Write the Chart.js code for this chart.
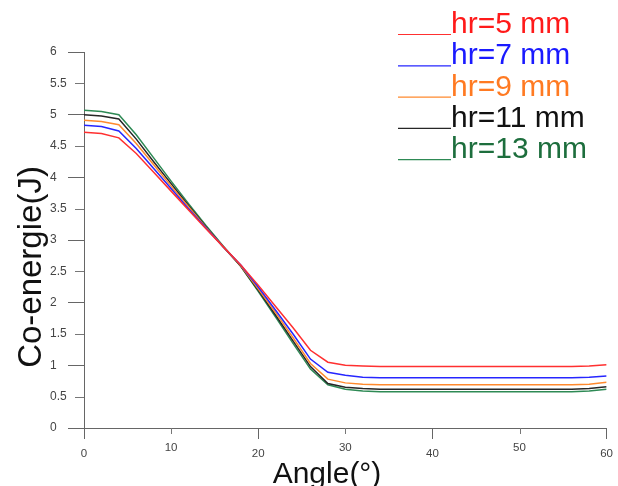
<!DOCTYPE html>
<html>
<head>
<meta charset="utf-8">
<script src="https://cdn.jsdelivr.net/npm/chart.js@4.4.1/dist/chart.umd.min.js"></script>
<style>
    html, body { margin: 0; padding: 0; background: #fff; }
</style>
</head>
<body>
<canvas id="coChart" width="618" height="486"></canvas>
<script>
// Açılar (derece)
const angles = [0, 2, 4, 6, 8, 10, 12, 14, 16, 18, 20, 22, 24, 26, 28, 30,
                32, 34, 36, 38, 40, 42, 44, 46, 48, 50, 52, 54, 56, 58, 60];

// Co-enerji değerleri (J)
const hr5  = [4.72, 4.70, 4.63, 4.38, 4.08, 3.78, 3.48, 3.18, 2.89, 2.60, 2.28, 1.94, 1.60, 1.24,
              1.05, 1.00, 0.99, 0.98, 0.98, 0.98, 0.98, 0.98, 0.98, 0.98, 0.98, 0.98, 0.98, 0.98, 0.98, 0.99, 1.01];
const hr7  = [4.83, 4.81, 4.74, 4.46, 4.14, 3.82, 3.50, 3.19, 2.89, 2.60, 2.25, 1.88, 1.50, 1.10,
              0.89, 0.84, 0.81, 0.80, 0.80, 0.80, 0.80, 0.80, 0.80, 0.80, 0.80, 0.80, 0.80, 0.80, 0.80, 0.81, 0.83];
const hr9  = [4.91, 4.89, 4.84, 4.54, 4.20, 3.86, 3.53, 3.20, 2.89, 2.59, 2.22, 1.84, 1.44, 1.03,
              0.78, 0.72, 0.70, 0.69, 0.69, 0.69, 0.69, 0.69, 0.69, 0.69, 0.69, 0.69, 0.69, 0.69, 0.69, 0.70, 0.73];
const hr11 = [5.00, 4.98, 4.93, 4.61, 4.25, 3.90, 3.55, 3.21, 2.89, 2.58, 2.20, 1.80, 1.39, 0.98,
              0.71, 0.65, 0.63, 0.62, 0.62, 0.62, 0.62, 0.62, 0.62, 0.62, 0.62, 0.62, 0.62, 0.62, 0.62, 0.63, 0.66];
const hr13 = [5.07, 5.05, 5.00, 4.68, 4.31, 3.94, 3.58, 3.23, 2.90, 2.58, 2.18, 1.77, 1.35, 0.94,
              0.69, 0.62, 0.59, 0.58, 0.58, 0.58, 0.58, 0.58, 0.58, 0.58, 0.58, 0.58, 0.58, 0.58, 0.58, 0.59, 0.62];

const seriesLabels = ['hr=5 mm', 'hr=7 mm', 'hr=9 mm', 'hr=11 mm', 'hr=13 mm'];

// Eksen etiketleri
const xTicks = [0, 10, 20, 30, 40, 50, 60];
const yTicks = [0, 0.5, 1, 1.5, 2, 2.5, 3, 3.5, 4, 4.5, 5, 5.5, 6];

const lineColors = ['#ff3030', '#2626ff', '#ff8a2e', '#262626', '#2e8a55'];
const textColors = ['#ff1a1a', '#1a1aff', '#ff7a22', '#111111', '#1d6e3d'];

function toPoints(values) {
    return angles.map((a, i) => ({ x: a, y: values[i] }));
}

const isMajorX = v => v % 20 === 0;
const isMajorY = v => v % 1 === 0;

// Kısa ara çentikler, eksen başlıkları ve sağ üstteki açıklama
const extrasPlugin = {
    id: 'extras',
    afterDraw(chart) {
        const { ctx, scales: { x, y } } = chart;
        ctx.save();
        ctx.strokeStyle = '#777';
        ctx.lineWidth = 1;
        ctx.beginPath();
        y.ticks.forEach(t => {
            if (!isMajorY(t.value)) {
                const py = Math.round(y.getPixelForValue(t.value)) + 0.5;
                ctx.moveTo(y.right - 9, py);
                ctx.lineTo(y.right, py);
            }
        });
        x.ticks.forEach(t => {
            if (!isMajorX(t.value)) {
                const px = Math.round(x.getPixelForValue(t.value)) + 0.5;
                ctx.moveTo(px, x.top);
                ctx.lineTo(px, x.top + 6);
            }
        });
        ctx.stroke();

        // eksen başlıkları
        ctx.fillStyle = '#111';
        ctx.textAlign = 'center';
        ctx.textBaseline = 'alphabetic';
        ctx.font = '30px "Liberation Sans", Arial, sans-serif';
        ctx.fillText('Angle(°)', 327, 483);

        ctx.save();
        ctx.translate(41, 267);
        ctx.rotate(-Math.PI / 2);
        ctx.font = '33px "Liberation Sans", Arial, sans-serif';
        ctx.fillText('Co-energie(J)', 0, 0);
        ctx.restore();

        // açıklama
        ctx.textAlign = 'left';
        ctx.font = '30px "Liberation Sans", Arial, sans-serif';
        chart.data.datasets.forEach((ds, i) => {
            const base = 33 + i * 31.3;
            ctx.strokeStyle = ds.borderColor;
            ctx.lineWidth = 1.2;
            ctx.beginPath();
            ctx.moveTo(398, base + 1.5);
            ctx.lineTo(451, base + 1.5);
            ctx.stroke();
            ctx.fillStyle = textColors[i];
            ctx.fillText(ds.label, 451, base);
        });
        ctx.restore();
    }
};

const coChart = new Chart(document.getElementById('coChart'), {
    type: 'line',
    data: {
        datasets: [hr5, hr7, hr9, hr11, hr13].map((vals, i) => ({
            label: seriesLabels[i],
            data: toPoints(vals),
            borderColor: lineColors[i],
            borderWidth: 1.5,
            pointRadius: 0,
            tension: 0,
            fill: false
        }))
    },
    options: {
        responsive: false,
        animation: false,
        devicePixelRatio: 1,
        layout: { padding: { left: 50, top: 52, right: 9, bottom: 0 } },
        plugins: {
            legend: { display: false },
            tooltip: { enabled: false }
        },
        scales: {
            x: {
                type: 'linear',
                min: 0,
                max: 60,
                afterBuildTicks: s => { s.ticks = xTicks.map(v => ({ value: v })); },
                afterFit: s => { s.height = 58; },
                border: { display: true, color: '#666', width: 1 },
                grid: {
                    drawOnChartArea: false,
                    drawTicks: true,
                    tickLength: 11,
                    tickColor: ctx => isMajorX(ctx.tick.value) ? '#666' : 'rgba(0,0,0,0)'
                },
                ticks: {
                    autoSkip: false,
                    maxRotation: 0,
                    padding: 5,
                    color: '#444',
                    callback: v => String(v),
                    font: ctx => ({
                        family: '"Liberation Sans", Arial, sans-serif',
                        size: 11.5,
                        lineHeight: (ctx.tick && isMajorX(ctx.tick.value)) ? '20px' : '8px'
                    })
                }
            },
            y: {
                type: 'linear',
                min: 0,
                max: 6,
                afterBuildTicks: s => { s.ticks = yTicks.map(v => ({ value: v })); },
                afterFit: s => { s.width = 34; },
                border: { display: true, color: '#666', width: 1 },
                grid: {
                    drawOnChartArea: false,
                    drawTicks: true,
                    tickLength: 16,
                    tickColor: ctx => isMajorY(ctx.tick.value) ? '#666' : 'rgba(0,0,0,0)'
                },
                ticks: {
                    crossAlign: 'far',
                    padding: 1,
                    color: '#444',
                    callback: v => String(v),
                    font: { family: '"Liberation Sans", Arial, sans-serif', size: 12 }
                }
            }
        }
    },
    plugins: [extrasPlugin]
});
</script>
</body>
</html>
